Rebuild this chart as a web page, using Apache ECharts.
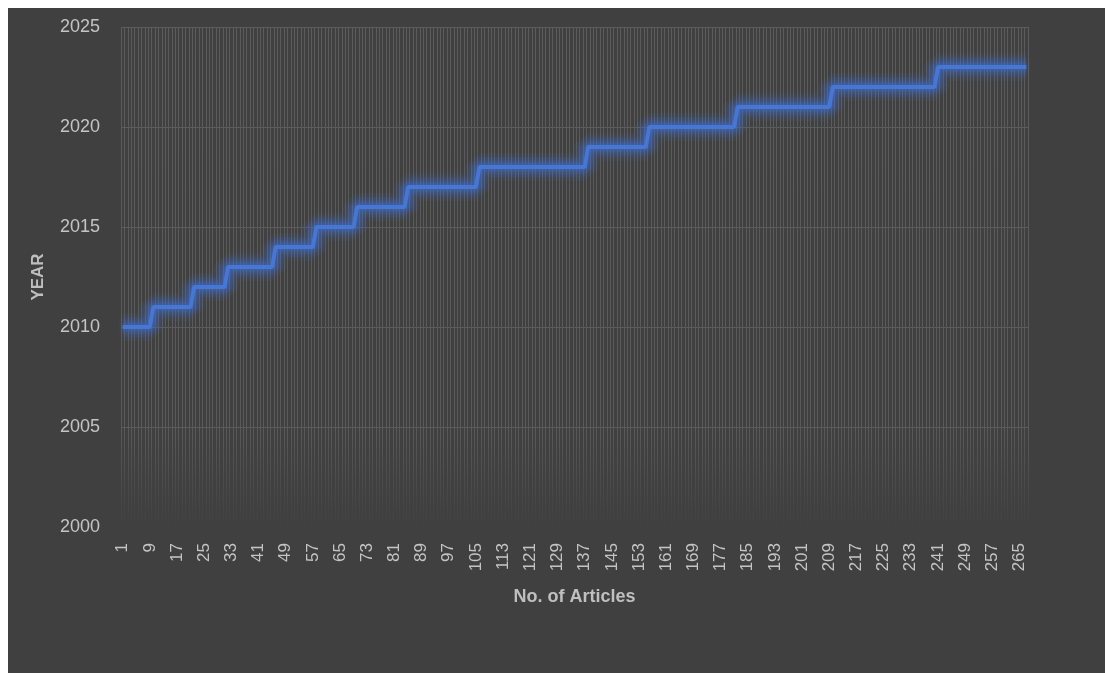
<!DOCTYPE html>
<html>
<head>
<meta charset="utf-8">
<script src="https://cdn.jsdelivr.net/npm/echarts@6/dist/echarts.min.js"></script>
<style>
    html, body { margin: 0; padding: 0; background: #ffffff; }
    #frame { position: absolute; left: 8px; top: 8px; width: 1097px; height: 665px; background: #404040; }
    #main { position: absolute; left: 0; top: 0; width: 1105px; height: 673px; }
</style>
</head>
<body>
<div id="frame"></div>
<div id="main"></div>
<script>
    // publication year of each article, in order
    const articleYears = [
        2010,2010,2010,2010,2010, 2010,2010,2010,2010,
        2011,2011,2011,2011,2011, 2011,2011,2011,2011,2011, 2011,2011,
        2012,2012,2012,2012,2012, 2012,2012,2012,2012,2012,
        2013,2013,2013,2013,2013, 2013,2013,2013,2013,2013, 2013,2013,2013,2013,
        2014,2014,2014,2014,2014, 2014,2014,2014,2014,2014, 2014,2014,
        2015,2015,2015,2015,2015, 2015,2015,2015,2015,2015, 2015,2015,
        2016,2016,2016,2016,2016, 2016,2016,2016,2016,2016, 2016,2016,2016,2016,2016,
        2017,2017,2017,2017,2017, 2017,2017,2017,2017,2017, 2017,2017,2017,2017,2017, 2017,2017,2017,2017,2017, 2017,
        2018,2018,2018,2018,2018, 2018,2018,2018,2018,2018, 2018,2018,2018,2018,2018, 2018,2018,2018,2018,2018,
        2018,2018,2018,2018,2018, 2018,2018,2018,2018,2018, 2018,2018,
        2019,2019,2019,2019,2019, 2019,2019,2019,2019,2019, 2019,2019,2019,2019,2019, 2019,2019,2019,
        2020,2020,2020,2020,2020, 2020,2020,2020,2020,2020, 2020,2020,2020,2020,2020, 2020,2020,2020,2020,2020,
        2020,2020,2020,2020,2020, 2020,
        2021,2021,2021,2021,2021, 2021,2021,2021,2021,2021, 2021,2021,2021,2021,2021, 2021,2021,2021,2021,2021,
        2021,2021,2021,2021,2021, 2021,2021,2021,
        2022,2022,2022,2022,2022, 2022,2022,2022,2022,2022, 2022,2022,2022,2022,2022, 2022,2022,2022,2022,2022,
        2022,2022,2022,2022,2022, 2022,2022,2022,2022,2022, 2022,
        2023,2023,2023,2023,2023, 2023,2023,2023,2023,2023, 2023,2023,2023,2023,2023, 2023,2023,2023,2023,2023,
        2023,2023,2023,2023,2023, 2023,2023
    ];

    // article numbers 1..n
    const articleNo = articleYears.map((y, i) => String(i + 1));

    const yMin = 2000;
    const yMax = 2025;
    const yStep = 5;

    const chart = echarts.init(document.getElementById('main'));

    // vertical grid lines fade out towards the bottom, like the original
    const fadeGrid = {
        type: 'linear', x: 0, y: 0, x2: 0, y2: 1,
        colorStops: [
            { offset: 0, color: '#5c5c5c' },
            { offset: 0.8, color: '#5a5a5a' },
            { offset: 0.96, color: '#444444' },
            { offset: 1, color: '#404040' }
        ]
    };

    const font = 'Liberation Sans';

    // glow layers drawn under the line (Excel "glow" effect)
    const glow = (w, a) => ({
        type: 'line',
        data: articleYears,
        showSymbol: false,
        silent: true,
        lineStyle: { color: 'rgba(62,112,215,' + a + ')', width: w }
    });

    const option = {
        backgroundColor: 'transparent',
        animation: false,
        grid: {
            left: 121,
            right: 77,
            top: 27,
            bottom: 146
        },
        xAxis: {
            type: 'category',
            data: articleNo,
            boundaryGap: true,
            name: 'No. of Articles',
            nameLocation: 'middle',
            nameGap: 61,
            nameTextStyle: { color: '#bfbfbf', fontSize: 18, fontWeight: 'bold', fontFamily: font },
            axisLine: { show: false },
            axisTick: { show: false },
            axisLabel: {
                interval: 7,
                rotate: 90,
                margin: 16,
                color: '#c4c4c4',
                fontSize: 17,
                fontFamily: font
            },
            splitLine: {
                show: true,
                interval: 0,
                lineStyle: { color: fadeGrid, width: 1 }
            }
        },
        yAxis: {
            type: 'value',
            min: yMin,
            max: yMax,
            interval: yStep,
            name: 'YEAR',
            nameLocation: 'middle',
            nameGap: 74,
            nameTextStyle: { color: '#bfbfbf', fontSize: 17, fontWeight: 'bold', fontFamily: font },
            axisLine: { show: false },
            axisTick: { show: false },
            axisLabel: {
                margin: 21,
                color: '#c4c4c4',
                fontSize: 18,
                fontFamily: font,
                formatter: (v) => String(v)
            },
            splitLine: {
                show: true,
                // bottom line (2000) is not drawn in the original
                lineStyle: { color: ['#404040', '#5c5c5c', '#5c5c5c', '#5c5c5c', '#5c5c5c', '#5c5c5c'], width: 1 }
            }
        },
        series: [
            glow(28, 0.08),
            glow(21, 0.1),
            glow(15, 0.13),
            glow(9, 0.18),
            {
                name: 'Year',
                type: 'line',
                data: articleYears,
                showSymbol: false,
                lineStyle: {
                    color: '#4677d4',
                    width: 4,
                    shadowBlur: 10,
                    shadowColor: 'rgba(62,112,215,0.9)'
                }
            }
        ]
    };

    chart.setOption(option);
</script>
</body>
</html>
